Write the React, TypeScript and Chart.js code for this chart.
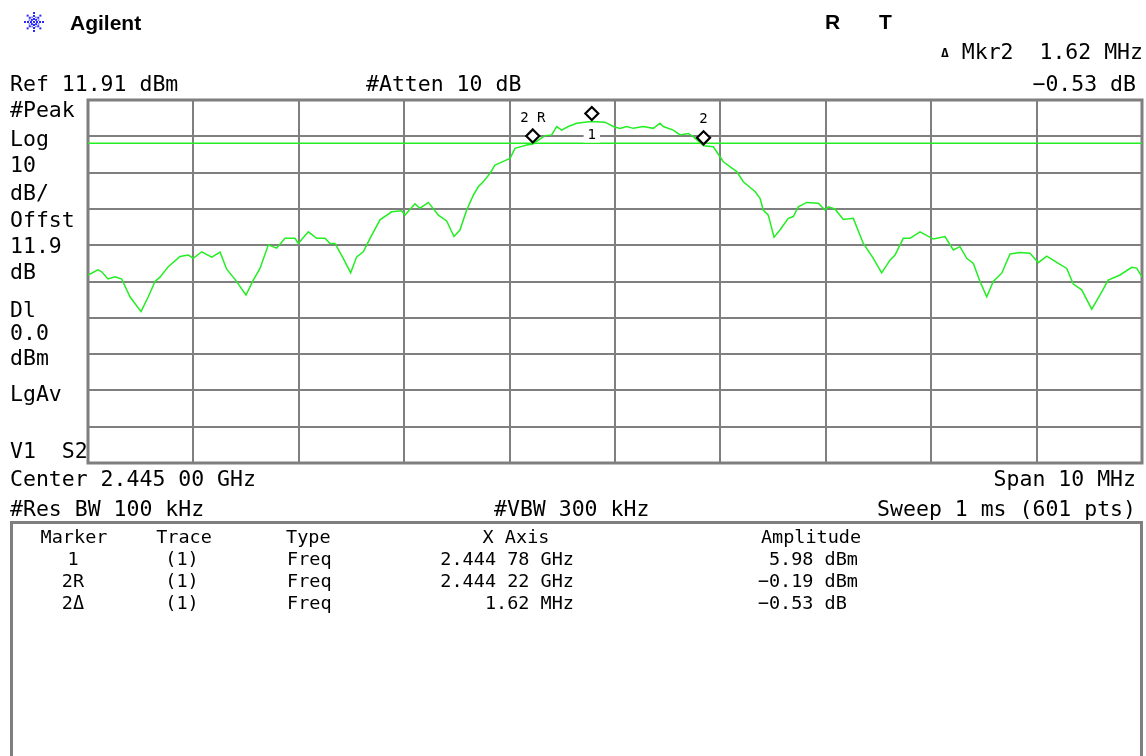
import React, { useEffect, useRef } from 'react';
import { Chart, registerables } from 'chart.js';

Chart.register(...registerables);

// ---- Instrument settings ----
const refLevelDbm = 11.91;
const dbPerDiv = 10;
const displayLineDbm = 0;
const spanMHz = 10;

// ---- Trace (offset from center 2.445 GHz, MHz) ----
const freqOffsetMHz = [
  -5.0, -4.905, -4.87, -4.81, -4.744, -4.68, -4.602, -4.497, -4.428, -4.364,
  -4.317, -4.238, -4.127, -4.048, -4.001, -3.921, -3.826, -3.747, -3.684, -3.605,
  -3.501, -3.432, -3.368, -3.289, -3.21, -3.131, -3.036, -3.005, -2.91, -2.83,
  -2.751, -2.704, -2.657, -2.578, -2.508, -2.451, -2.388, -2.324, -2.23, -2.119,
  -2.024, -1.992, -1.898, -1.85, -1.771, -1.676, -1.597, -1.528, -1.471, -1.407,
  -1.344, -1.297, -1.25, -1.186, -1.139, -1.091, -1.044, -0.996, -0.949, -0.901,
  -0.838, -0.78, -0.664, -0.601, -0.553, -0.506, -0.443, -0.363, -0.268, -0.22,
  -0.095, -0.016, 0.047, 0.111, 0.174, 0.269, 0.363, 0.427, 0.458, 0.553,
  0.617, 0.695, 0.743, 0.84, 0.933, 1.028, 1.155, 1.217, 1.328, 1.376,
  1.407, 1.454, 1.509, 1.565, 1.644, 1.692, 1.739, 1.819, 1.929, 1.992,
  2.024, 2.087, 2.166, 2.261, 2.356, 2.451, 2.53, 2.609, 2.657, 2.735,
  2.799, 2.894, 3.02, 3.131, 3.21, 3.273, 3.337, 3.4, 3.463, 3.527,
  3.589, 3.669, 3.748, 3.843, 3.937, 4.016, 4.096, 4.206, 4.286, 4.348,
  4.428, 4.523, 4.602, 4.68, 4.791, 4.902, 4.949, 5.0,
];
const traceDbm = [
  -36.3, -34.9, -35.4, -37.4, -36.8, -37.4, -42.3, -46.4, -42.3, -38.1,
  -36.9, -34.0, -31.2, -30.8, -31.7, -29.9, -31.4, -30.0, -34.7, -37.5,
  -41.8, -37.7, -34.5, -28.0, -28.9, -26.2, -26.2, -27.6, -24.4, -26.2,
  -26.2, -27.6, -27.6, -31.7, -35.7, -31.3, -29.9, -26.2, -21.1, -18.9,
  -18.6, -19.8, -16.7, -17.9, -16.3, -19.8, -21.4, -25.7, -23.9, -18.4,
  -14.3, -12.0, -10.6, -8.3, -6.0, -5.4, -4.8, -4.2, -1.4, -1.0,
  -0.5, -0.19, 2.1, 2.3, 4.6, 3.6, 4.6, 5.5, 5.85, 5.98,
  5.8, 4.6, 4.1, 4.6, 4.1, 4.6, 4.1, 5.5, 4.6, 3.6,
  2.3, 2.7, 1.8, -0.72, -0.96, -5.1, -7.8, -10.6, -13.3, -15.2,
  -18.4, -19.8, -25.9, -23.9, -20.7, -20.2, -17.5, -16.3, -16.5, -18.4,
  -17.5, -18.1, -21.0, -20.7, -27.6, -31.7, -35.7, -32.2, -30.8, -26.2,
  -26.2, -24.4, -26.4, -25.7, -29.4, -28.5, -31.7, -33.1, -38.1, -42.3,
  -38.1, -35.8, -30.5, -30.1, -30.3, -32.9, -31.1, -33.1, -34.5, -38.8,
  -40.4, -45.7, -41.8, -37.7, -36.3, -34.2, -34.4, -36.8,
];

// ---- Markers ----
const markerNames = ['1', '2R', '2'];
const markerOffsetMHz = [-0.22, -0.78, 0.84];
const markerDbm = [5.98, -0.19, -0.72];

// ---- Grid ticks ----
const xTicks = Array.from({ length: 11 }, (_, i) => -spanMHz / 2 + i);
const yTicks = Array.from({ length: 11 }, (_, i) => refLevelDbm - i * dbPerDiv);

// ---- Table rows ----
const tableMarker = ['1', '2R', '2\u0394'];
const tableTrace = ['(1)', '(1)', '(1)'];
const tableType = ['Freq', 'Freq', 'Freq'];
const tableX = ['2.444 78 GHz', '2.444 22 GHz', '1.62 MHz'];
const tableAmp = ['5.98 dBm', '\u22120.19 dBm', '\u22120.53 dB\u00a0'];

const GRID = '#7f7f7f';
const TRACE = '#22ee22';
const MONO = '"DejaVu Sans Mono", "Liberation Mono", monospace';

const markerPlugin = {
  id: 'markers',
  beforeDatasetsDraw(chart: any) {
    const { ctx, chartArea: a } = chart;
    ctx.save();
    ctx.strokeStyle = GRID;
    ctx.lineWidth = 3;
    ctx.strokeRect(a.left, a.top, a.right - a.left, a.bottom - a.top);
    ctx.restore();
  },
  afterDatasetsDraw(chart: any) {
    const { ctx } = chart;
    const xs = chart.scales.x;
    const ys = chart.scales.y;
    ctx.save();
    markerNames.forEach((name, i) => {
      const px = xs.getPixelForValue(markerOffsetMHz[i]);
      const py = ys.getPixelForValue(markerDbm[i]) - 8;
      const h = 6.5;
      ctx.beginPath();
      ctx.moveTo(px, py - h);
      ctx.lineTo(px + h, py);
      ctx.lineTo(px, py + h);
      ctx.lineTo(px - h, py);
      ctx.closePath();
      ctx.fillStyle = '#fff';
      ctx.fill();
      ctx.lineWidth = 2.2;
      ctx.strokeStyle = '#000';
      ctx.stroke();
      ctx.font = `14px ${MONO}`;
      ctx.textAlign = 'center';
      ctx.textBaseline = 'middle';
      const below = name === '1';
      const ly = below ? py + 22 : py - 18;
      if (below) {
        const w = ctx.measureText(name).width + 8;
        ctx.fillStyle = '#fff';
        ctx.fillRect(px - w / 2, ly - 7, w, 14);
      }
      ctx.fillStyle = '#000';
      ctx.fillText(name === '2R' ? '2 R' : name, px, ly);
    });
    ctx.restore();
  },
};

type TProps = { x: number; y: number; text: string; align?: 'left' | 'right' | 'center'; size?: number; bold?: boolean; family?: string };
function T({ x, y, text, align = 'left', size = 21.5, bold = false, family = MONO }: TProps) {
  const style: React.CSSProperties = {
    position: 'absolute',
    top: y,
    fontSize: size,
    lineHeight: 1,
    fontFamily: family,
    fontWeight: bold ? 700 : 400,
    whiteSpace: 'pre',
    color: '#000',
  };
  if (align === 'left') {
    style.left = x;
    style.transform = 'translateY(-50%)';
  } else if (align === 'right') {
    style.right = 1146 - x;
    style.transform = 'translateY(-50%)';
  } else {
    style.left = x;
    style.transform = 'translate(-50%, -50%)';
  }
  return <div style={style}>{text}</div>;
}

function Logo() {
  const dots: React.ReactElement[] = [];
  for (let k = 0; k < 8; k++) {
    const ang = (k * Math.PI) / 4;
    [3, 6, 9].forEach((r, j) => {
      dots.push(
        <rect key={`${k}-${j}`} x={11 + r * Math.cos(ang) - 1} y={11 + r * Math.sin(ang) - 1} width={2} height={2} fill="#2a2aff" />
      );
    });
  }
  for (let k = 0; k < 8; k++) {
    const ang = (k * Math.PI) / 4 + Math.PI / 8;
    dots.push(<rect key={`m${k}`} x={11 + 5 * Math.cos(ang) - 0.75} y={11 + 5 * Math.sin(ang) - 0.75} width={1.5} height={1.5} fill="#6a6aff" />);
  }
  dots.push(<rect key="c" x={10} y={10} width={2} height={2} fill="#2a2aff" />);
  return (
    <svg width={22} height={22} style={{ position: 'absolute', left: 23, top: 11 }}>
      {dots}
    </svg>
  );
}

export default function App() {
  const ref = useRef<HTMLCanvasElement>(null);

  useEffect(() => {
    const canvas = ref.current;
    if (!canvas) return;
    const chart = new Chart(canvas, {
      type: 'line',
      data: {
        datasets: [
          {
            label: 'Trace 1',
            data: freqOffsetMHz.map((f, i) => ({ x: f, y: traceDbm[i] })),
            borderColor: TRACE,
            borderWidth: 1.5,
            pointRadius: 0,
            tension: 0,
          },
          {
            label: 'Display line',
            data: [
              { x: -spanMHz / 2, y: displayLineDbm },
              { x: spanMHz / 2, y: displayLineDbm },
            ],
            borderColor: TRACE,
            borderWidth: 1.5,
            pointRadius: 0,
          },
        ],
      },
      options: {
        responsive: false,
        animation: false,
        events: [],
        layout: { padding: { left: 88, top: 100, right: 4, bottom: 293 } },
        plugins: { legend: { display: false }, tooltip: { enabled: false } },
        scales: {
          x: {
            type: 'linear',
            min: -spanMHz / 2,
            max: spanMHz / 2,
            afterBuildTicks: (s: any) => {
              s.ticks = xTicks.map((v) => ({ value: v }));
            },
            ticks: { display: false },
            grid: { color: GRID, lineWidth: 2, drawTicks: false },
            border: { display: false },
          },
          y: {
            type: 'linear',
            min: refLevelDbm - 10 * dbPerDiv,
            max: refLevelDbm,
            afterBuildTicks: (s: any) => {
              s.ticks = yTicks.map((v) => ({ value: v }));
            },
            ticks: { display: false },
            grid: { color: GRID, lineWidth: 2, drawTicks: false },
            border: { display: false },
          },
        },
      },
      plugins: [markerPlugin],
    });
    return () => chart.destroy();
  }, []);

  const leftLabels: [string, number][] = [
    ['#Peak', 110], ['Log', 139], ['10', 165], ['dB/', 193], ['Offst', 220], ['11.9', 246],
    ['dB', 272], ['Dl', 310], ['0.0', 333], ['dBm', 358], ['LgAv', 394], ['V1  S2', 451],
  ];

  return (
    <div style={{ position: 'absolute', left: 0, top: 0, width: 1146, height: 756, background: '#fff', overflow: 'hidden' }}>
      <canvas ref={ref} width={1146} height={756} style={{ position: 'absolute', left: 0, top: 0, width: 1146, height: 756 }} />
      <Logo />
      <T x={70} y={22} text="Agilent" bold size={21} family='"Liberation Sans", Arial, sans-serif' />
      <T x={825} y={21} text="R" bold size={21} family='"Liberation Sans", Arial, sans-serif' />
      <T x={879} y={21} text="T" bold size={21} family='"Liberation Sans", Arial, sans-serif' />
      <div style={{ position: 'absolute', right: 3, top: 52, transform: 'translateY(-50%)', fontFamily: MONO, fontSize: 21.5, lineHeight: 1, whiteSpace: 'pre' }}>
        <span style={{ fontSize: 13, fontWeight: 700, position: 'relative', top: -2 }}>{'\u0394'}</span>
        {' Mkr2  1.62 MHz'}
      </div>
      <T x={10} y={84} text="Ref 11.91 dBm" />
      <T x={366} y={84} text="#Atten 10 dB" />
      <T x={1136} y={84} text={'\u22120.53 dB'} align="right" />
      {leftLabels.map(([t, y]) => (
        <T key={t} x={10} y={y} text={t} />
      ))}
      <T x={10} y={479} text="Center 2.445 00 GHz" />
      <T x={1136} y={479} text="Span 10 MHz" align="right" />
      <T x={10} y={509} text="#Res BW 100 kHz" />
      <T x={494} y={509} text="#VBW 300 kHz" />
      <T x={1136} y={509} text="Sweep 1 ms (601 pts)" align="right" />
      <div style={{ position: 'absolute', left: 10, top: 521, width: 1133, height: 260, border: `3px solid ${GRID}`, boxSizing: 'border-box' }} />
      <T x={74} y={537} text="Marker" align="center" size={18.5} />
      <T x={184} y={537} text="Trace" align="center" size={18.5} />
      <T x={286} y={537} text="Type" size={18.5} />
      <T x={516} y={537} text="X Axis" align="center" size={18.5} />
      <T x={811} y={537} text="Amplitude" align="center" size={18.5} />
      {tableMarker.map((m, i) => {
        const y = 559 + i * 22;
        return (
          <React.Fragment key={m}>
            <T x={73} y={y} text={m} align="center" size={18.5} />
            <T x={182} y={y} text={tableTrace[i]} align="center" size={18.5} />
            <T x={287} y={y} text={tableType[i]} size={18.5} />
            <T x={574} y={y} text={tableX[i]} align="right" size={18.5} />
            <T x={858} y={y} text={tableAmp[i]} align="right" size={18.5} />
          </React.Fragment>
        );
      })}
    </div>
  );
}
